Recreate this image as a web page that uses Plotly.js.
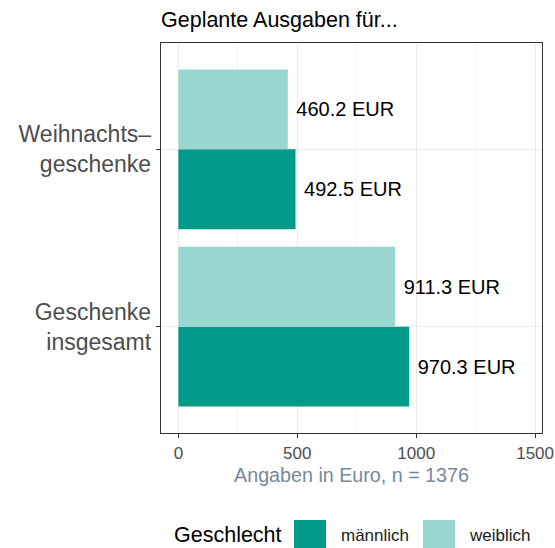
<!DOCTYPE html>
<html>
<head>
<meta charset="utf-8">
<script src="https://cdn.plot.ly/plotly-3.0.1.min.js"></script>
<style>html,body{margin:0;padding:0;background:#fff;}#chart{width:555px;height:548px;}</style>
</head>
<body>
<div id="chart"></div>
<script>
// ---- data ----
var categories = ['Geschenke insgesamt', 'Weihnachtsgeschenke'];
var categoryLabels = ['Geschenke<br>insgesamt', 'Weihnachts–<br>geschenke'];
var seriesNames = ['männlich', 'weiblich'];
var maleValues = [970.3, 492.5];
var femaleValues = [911.3, 460.2];
var seriesColors = ['#009A88', '#99D6CF'];
var xTickValues = [0, 500, 1000, 1500];
var titleText = 'Geplante Ausgaben für...';
var xTitleText = 'Angaben in Euro, n = 1376';
var legendTitle = 'Geschlecht';

var FONT = '"Liberation Sans", Arial, Helvetica, sans-serif';
var W = 555, H = 548;
var M = {l: 161, r: 13, t: 43, b: 115};
var PW = W - M.l - M.r, PH = H - M.t - M.b;
function px2x(px) { return (px - M.l) / PW; }
function py2y(py) { return (H - M.b - py) / PH; }

function barTrace(name, vals, color) {
  return {
    type: 'bar', orientation: 'h', name: name,
    y: categories, x: vals,
    marker: {color: color, line: {width: 0}},
    texttemplate: '\u00a0%{x:.1f} EUR',
    textposition: 'outside',
    textfont: {family: FONT, size: 20, color: '#000000'},
    constraintext: 'none', cliponaxis: false,
    hoverinfo: 'skip', showlegend: false
  };
}

var data = [
  barTrace(seriesNames[0], maleValues, seriesColors[0]),
  barTrace(seriesNames[1], femaleValues, seriesColors[1])
];

// legend (drawn manually to match key size)
var legendKeys = [
  {x0: 294, x1: 326, label: seriesNames[0], lx: 339, color: seriesColors[0]},
  {x0: 423, x1: 455, label: seriesNames[1], lx: 467, color: seriesColors[1]}
];
var shapes = legendKeys.map(function (k) {
  return {type: 'rect', xref: 'paper', yref: 'paper',
    x0: px2x(k.x0), x1: px2x(k.x1), y0: py2y(520), y1: py2y(548),
    fillcolor: k.color, line: {width: 0}, layer: 'above'};
});
var annotations = [{
  xref: 'paper', yref: 'paper', x: px2x(172), y: py2y(535),
  xanchor: 'left', yanchor: 'middle', showarrow: false,
  text: legendTitle, font: {family: FONT, size: 21.5, color: '#000000'}
}].concat(legendKeys.map(function (k) {
  return {xref: 'paper', yref: 'paper', x: px2x(k.lx), y: py2y(535),
    xanchor: 'left', yanchor: 'middle', showarrow: false,
    text: k.label, font: {family: FONT, size: 17, color: '#1A1A1A'}};
}));

var layout = {
  width: W, height: H,
  margin: M,
  paper_bgcolor: '#FFFFFF', plot_bgcolor: '#FFFFFF',
  font: {family: FONT},
  barmode: 'group', bargap: 0.1, bargroupgap: 0,
  showlegend: false,
  title: {text: titleText, xref: 'container', yref: 'container',
    x: 161 / W, xanchor: 'left', y: 1 - 19 / H, yanchor: 'middle',
    font: {family: FONT, size: 21.5, color: '#000000'}},
  xaxis: {
    range: [-73, 1529], tickvals: xTickValues, ticktext: xTickValues.map(String),
    ticks: 'outside', ticklen: 4, tickwidth: 1, tickcolor: '#333333',
    tickfont: {family: FONT, size: 17, color: '#4D4D4D'},
    showgrid: true, gridcolor: '#EBEBEB', gridwidth: 1.1,
    minor: {dtick: 250, tick0: 250, showgrid: true, gridcolor: '#EBEBEB', gridwidth: 0.6},
    zeroline: false, showline: true, mirror: true, linecolor: '#333333', linewidth: 1.3,
    title: {text: xTitleText, standoff: 6, font: {family: FONT, size: 19.7, color: '#778899'}}
  },
  yaxis: {
    type: 'category', categoryorder: 'array', categoryarray: categories,
    range: [-0.6, 1.6], tickvals: categories, ticktext: categoryLabels,
    ticks: 'outside', ticklen: 4, tickwidth: 1, tickcolor: '#333333',
    tickfont: {family: FONT, size: 23, color: '#4D4D4D'},
    showgrid: true, gridcolor: '#EBEBEB', gridwidth: 1.1,
    zeroline: false, showline: true, mirror: true, linecolor: '#333333', linewidth: 1.3
  },
  shapes: shapes,
  annotations: annotations
};

Plotly.newPlot('chart', data, layout, {staticPlot: true, displayModeBar: false});
</script>
</body>
</html>
